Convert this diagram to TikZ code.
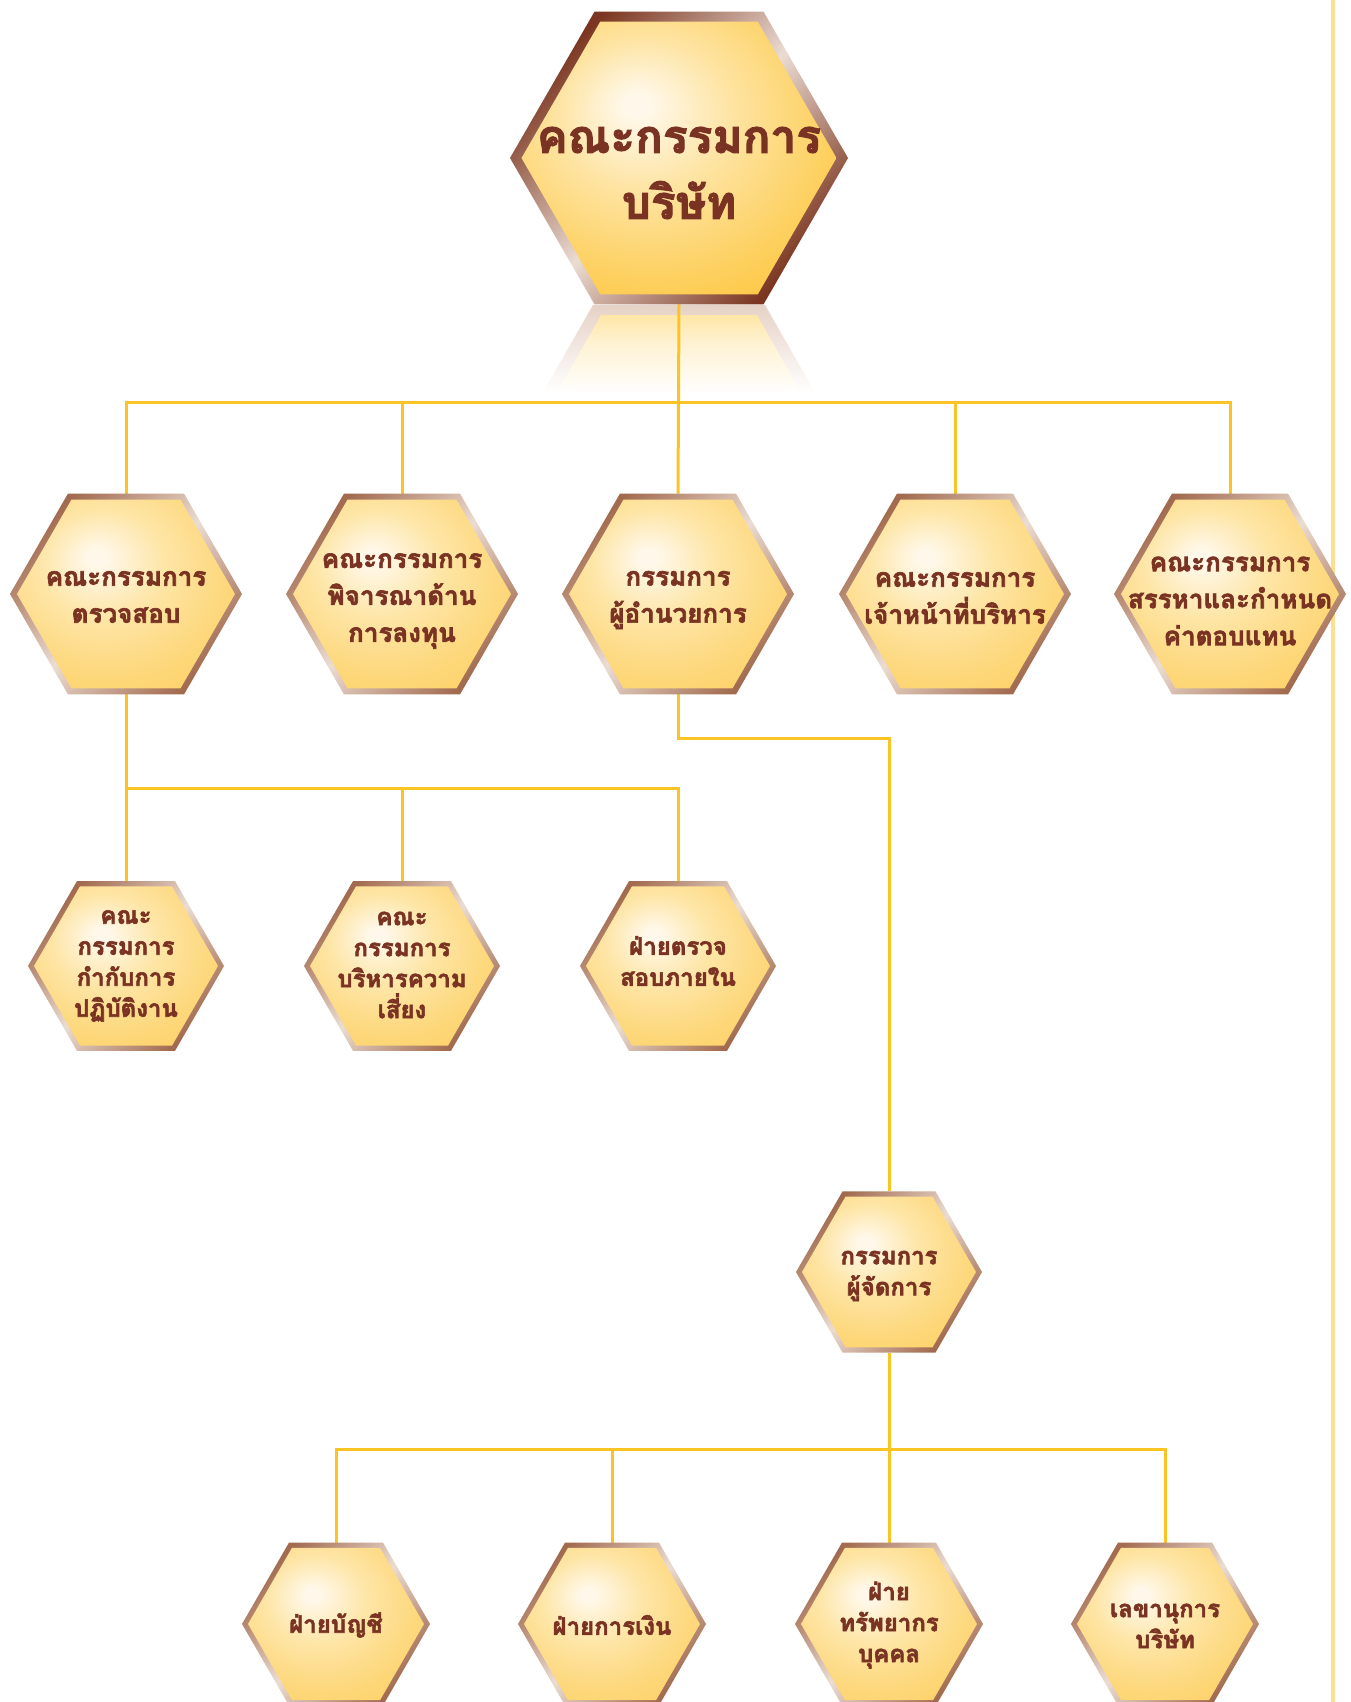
\documentclass[tikz,border=0pt]{standalone}
\usepackage{fontspec}
\newfontfamily\thaifont[Script=Thai, FakeBold=2.4, BoldFeatures={FakeBold=2.4}]{Loma}
\usetikzlibrary{shapes.geometric,backgrounds}
\definecolor{txtbrown}{HTML}{7A3322}
\definecolor{linegold}{HTML}{F9C424}
\definecolor{sidegold}{HTML}{FDE08F}
\definecolor{glowA}{HTML}{FFF8EA}
\definecolor{glowB}{HTML}{FEE4A2}
\definecolor{glowC}{HTML}{FDD060}
\definecolor{glowD}{HTML}{FCC22A}
\definecolor{glowE}{HTML}{FEE6A8}
\definecolor{glowF}{HTML}{FDD77A}
\definecolor{glowG}{HTML}{FDCF5C}
\definecolor{rimdark}{HTML}{7B3520}
\definecolor{rimmid}{HTML}{A26A4E}
\definecolor{rimlight}{HTML}{EBDCD2}
\definecolor{reflrim}{HTML}{E6D2C6}
\definecolor{reflfill}{HTML}{FEE6A6}
\definecolor{reflfillb}{HTML}{FEF2D2}
\pgfdeclareradialshading{glowbig}{\pgfpoint{-7bp}{10bp}}{color(0bp)=(glowA); color(2bp)=(glowA); color(14bp)=(glowB); color(28bp)=(glowC); color(42bp)=(glowD); color(70bp)=(glowD)}
\pgfdeclareradialshading{glowsmall}{\pgfpoint{-7bp}{10bp}}{color(0bp)=(glowA); color(2bp)=(glowA); color(14bp)=(glowE); color(28bp)=(glowF); color(42bp)=(glowG); color(70bp)=(glowG)}
\pgfdeclareverticalshading{reflrimfade}{100bp}{color(0bp)=(white); color(27bp)=(white); color(75bp)=(reflrim); color(100bp)=(reflrim)}
\pgfdeclareverticalshading{reflfillfade}{100bp}{color(0bp)=(white); color(26bp)=(white); color(58bp)=(reflfillb); color(75bp)=(reflfill); color(100bp)=(reflfill)}
\newcommand\hexcell[7]{%
  \node[hexshape, minimum size=#4, top color=#6, bottom color=#6, middle color=rimlight, shading angle=45] (#1) at (#2,#3) {};
  \node[hexshape, minimum size=#5, shade, shading=#7] (#1-in) at (#2,#3) {};
}
\begin{document}
\begin{tikzpicture}[x=1pt,y=-1pt,
  hexshape/.style={regular polygon, regular polygon sides=6, inner sep=0pt, outer sep=0pt, draw=none},
  conn/.style={draw=linegold, line width=3pt},
  lbltop/.style={align=center, inner sep=0pt, text=txtbrown, font={\thaifont\bfseries\fontsize{46}{66}\selectfont}},
  lblmid/.style={align=center, inner sep=0pt, text=txtbrown, font={\thaifont\bfseries\fontsize{26}{37}\selectfont}},
  lblsmall/.style={align=center, inner sep=0pt, text=txtbrown, font={\thaifont\bfseries\fontsize{24}{31}\selectfont}}]
\useasboundingbox (0,0) rectangle (1351,1702);

% top
\hexcell{top}{679}{158}{338pt}{315pt}{rimdark}{glowbig}
\node[lbltop] (top-t) at (679,173) {คณะกรรมการ\\บริษัท};

% level 2
\hexcell{n1}{126}{594}{232pt}{218pt}{rimmid}{glowsmall}
\hexcell{n2}{402}{594}{232pt}{218pt}{rimmid}{glowsmall}
\hexcell{n3}{678}{594}{232pt}{218pt}{rimmid}{glowsmall}
\hexcell{n4}{955}{594}{232pt}{218pt}{rimmid}{glowsmall}
\hexcell{n5}{1230}{594}{232pt}{218pt}{rimmid}{glowsmall}
\node[lblmid] (n1-t) at (126,597) {คณะกรรมการ\\ตรวจสอบ};
\node[lblmid] (n2-t) at (402,601) {คณะกรรมการ\\พิจารณาด้าน\\การลงทุน};
\node[lblmid] (n3-t) at (678,600) {กรรมการ\\ผู้อำนวยการ};
\node[lblmid] (n4-t) at (955,598) {คณะกรรมการ\\เจ้าหน้าที่บริหาร};
\node[lblmid] (n5-t) at (1230,601) {คณะกรรมการ\\สรรหาและกำหนด\\ค่าตอบแทน};

% level 3
\hexcell{m1}{126}{966}{196pt}{184pt}{rimmid}{glowsmall}
\hexcell{m2}{402}{966}{196pt}{184pt}{rimmid}{glowsmall}
\hexcell{m3}{678}{966}{196pt}{184pt}{rimmid}{glowsmall}
\node[lblsmall] (m1-t) at (126,966) {คณะ\\กรรมการ\\กำกับการ\\ปฏิบัติงาน};
\node[lblsmall] (m2-t) at (402,965) {คณะ\\กรรมการ\\บริหารความ\\เสี่ยง};
\node[lblsmall] (m3-t) at (678,961) {ฝ่ายตรวจ\\สอบภายใน};

% managing director
\hexcell{md}{889}{1272}{186pt}{174pt}{rimmid}{glowsmall}
\node[lblsmall] (md-t) at (889,1276) {กรรมการ\\ผู้จัดการ};

% bottom
\hexcell{b1}{336}{1624}{188pt}{176pt}{rimmid}{glowsmall}
\hexcell{b2}{612}{1624}{188pt}{176pt}{rimmid}{glowsmall}
\hexcell{b3}{889}{1624}{188pt}{176pt}{rimmid}{glowsmall}
\hexcell{b4}{1165}{1624}{188pt}{176pt}{rimmid}{glowsmall}
\node[lblsmall] (b1-t) at (336,1625) {ฝ่ายบัญชี};
\node[lblsmall] (b2-t) at (612,1625) {ฝ่ายการเงิน};
\node[lblsmall] (b3-t) at (889,1625) {ฝ่าย\\ทรัพยากร\\บุคคล};
\node[lblsmall] (b4-t) at (1165,1626) {เลขานุการ\\บริษัท};

\begin{pgfonlayer}{background}
  \fill[white] (0,0) rectangle (1351,1702);
  % reflection of the top hexagon
  \path[shade, shading=reflrimfade] (593,305) -- (765,305) -- (817,396) -- (541,396) -- cycle;
  \path[shade, shading=reflfillfade] (601,315) -- (757,315) -- (803,396) -- (555,396) -- cycle;
  % side rule
  \coordinate (sideA) at (1333,0);
  \coordinate (sideB) at (1333,1702);
  \draw[draw=sidegold, line width=3.2pt] (sideA) -- (sideB);
  % connectors
  \coordinate (busA) at (0,402);
  \coordinate (busB) at (0,788);
  \coordinate (busC) at (0,738);
  \coordinate (busD) at (0,1449);
  \draw[conn] (top.south) -- (n3.north);
  \draw[conn] (n1.north) -- (n1.north |- busA) -- (n5.north |- busA) -- (n5.north);
  \draw[conn] (n2.north) -- (n2.north |- busA);
  \draw[conn] (n4.north) -- (n4.north |- busA);
  \draw[conn] (n1.south) -- (m1.north);
  \draw[conn] (m1.north |- busB) -- (m3.north |- busB) -- (m3.north);
  \draw[conn] (m2.north) -- (m2.north |- busB);
  \draw[conn] (n3.south) |- (busC -| md.north) -- (md.north);
  \draw[conn] (md.south) -- (b3.north);
  \draw[conn] (b1.north) -- (b1.north |- busD) -- (b4.north |- busD) -- (b4.north);
  \draw[conn] (b2.north) -- (b2.north |- busD);
\end{pgfonlayer}
\end{tikzpicture}
\end{document}
